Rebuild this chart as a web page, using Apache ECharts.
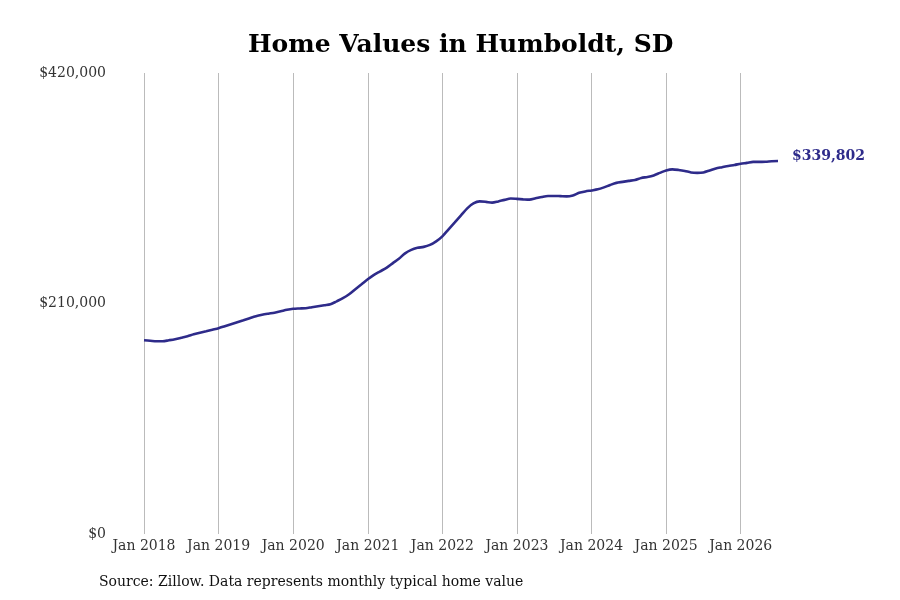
<!DOCTYPE html>
<html>
<head>
<meta charset="utf-8">
<style>
  html, body { margin: 0; padding: 0; background: #fff; }
  #chart { width: 900px; height: 600px; }
</style>
</head>
<body>
<div id="chart"></div>
<script src="https://cdn.jsdelivr.net/npm/echarts@6/dist/echarts.min.js"></script>
<script type="text/javascript">
    var monthNames = ['Jan', 'Feb', 'Mar', 'Apr', 'May', 'Jun', 'Jul', 'Aug', 'Sep', 'Oct', 'Nov', 'Dec'];
    var startYear = 2018;

    // typical home value, monthly from Jan 2018 to Jul 2026
    var homeValues = [
        176500, 176100, 175600, 175600, 176500, 177500, 178800, 180200, 182000, 183400, 184700, 186100,
        187500, 189300, 191100, 192900, 194700, 196600, 198400, 199700, 200700, 201600, 202900, 204300,
        205200, 205500, 205700, 206600, 207500, 208400, 209300, 212000, 214800, 218400, 223000, 227500,
        232100, 236100, 239300, 242500, 246600, 250700, 255700, 258900, 260700, 261600, 263400, 266600,
        271200, 277600, 283900, 290300, 296700, 301200, 303000, 302600, 301900, 303000, 304400, 305600,
        305300, 304900, 304600, 305800, 307100, 308000, 308000, 307800, 307600, 308500, 310800, 312100,
        313000, 314000, 315800, 318000, 319900, 320800, 321700, 322600, 324400, 325300, 326700, 329000,
        331200, 332200, 331700, 330800, 329400, 329000, 329400, 331200, 333100, 334200, 335300, 336200,
        337400, 338100, 339000, 339000, 339200, 339600, 339802
    ];

    var months = [];
    for (var i = 0; i < homeValues.length; i++) {
        months.push(monthNames[i % 12] + ' ' + (startYear + Math.floor(i / 12)));
    }

    var yTicks = [0, 210000, 420000];

    function isJan(index) {
        return index % 12 === 0;
    }

    function money(v) {
        return '$' + v.toLocaleString('en-US');
    }

    var myChart = echarts.init(document.getElementById('chart'));

    var option = {
        animation: false,
        backgroundColor: '#fff',
        textStyle: { fontFamily: 'DejaVu Serif' },
        title: [{
            text: 'Home Values in Humboldt, SD',
            left: 243,
            top: 28,
            textStyle: { fontFamily: 'DejaVu Serif', fontSize: 25, fontWeight: 'bold', color: '#000' }
        }, {
            text: 'Source: Zillow. Data represents monthly typical home value',
            left: 94,
            top: 570,
            textStyle: { fontFamily: 'DejaVu Serif', fontSize: 14, fontWeight: 'normal', color: '#111' }
        }],
        grid: { left: 144, right: 122, top: 73, bottom: 66 },
        xAxis: {
            type: 'category',
            data: months,
            boundaryGap: false,
            axisLine: { show: false },
            axisTick: { show: false },
            axisLabel: {
                interval: function (index) { return isJan(index); },
                margin: 5,
                fontSize: 14,
                color: '#333',
                fontFamily: 'DejaVu Serif'
            },
            splitLine: {
                show: true,
                interval: function (index) { return isJan(index); },
                lineStyle: { color: '#bbbbbb', width: 1 }
            }
        },
        yAxis: {
            type: 'value',
            min: yTicks[0],
            max: yTicks[yTicks.length - 1],
            interval: yTicks[1] - yTicks[0],
            axisLine: { show: false },
            axisTick: { show: false },
            splitLine: { show: false },
            axisLabel: {
                margin: 38,
                fontSize: 14,
                color: '#333',
                fontFamily: 'DejaVu Serif',
                formatter: money
            }
        },
        series: [{
            name: 'Home value',
            type: 'line',
            data: homeValues,
            smooth: 0.3,
            showSymbol: false,
            lineStyle: { color: '#2e2b8a', width: 2.6 },
            itemStyle: { color: '#2e2b8a' },
            endLabel: {
                show: true,
                distance: 14,
                offset: [0, -5],
                formatter: function (p) { return money(p.value); },
                fontFamily: 'DejaVu Serif',
                fontSize: 14,
                fontWeight: 'bold',
                color: '#2e2b8a'
            }
        }]
    };

    myChart.setOption(option);
</script>
</body>
</html>
